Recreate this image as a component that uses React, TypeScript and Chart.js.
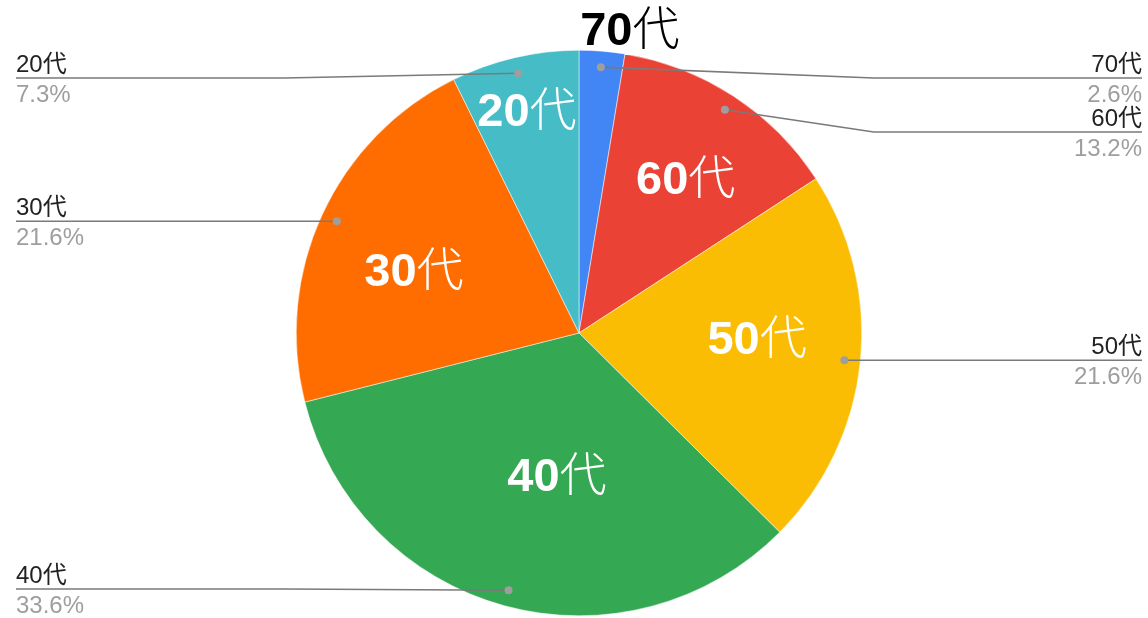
import React, { useEffect, useRef } from "react";
import { Chart, registerables } from "chart.js";

Chart.register(...registerables);

const categories = ["70代", "60代", "50代", "40代", "30代", "20代"];
const values = [2.6, 13.2, 21.6, 33.6, 21.6, 7.3];
const colors = ["#4285F4", "#EA4335", "#FBBC04", "#34A853", "#FF6D01", "#46BDC6"];

// label placement: fraction of radius and angle offset (degrees) from the slice mid-angle
const LABEL_RADIUS = [1.09, 0.665, 0.63, 0.51, 0.625, 0.81];
const LABEL_ANGLE_OFFSET = [4.8, 1.4, -4.3, -6.5, -3.9, 0];

const NUM_FONT = '"Liberation Sans", Arial, sans-serif';
const CJK_FONT = '"Noto Sans CJK JP", sans-serif';
const SIDE_FONT = '24px "Liberation Sans", Arial, "Noto Sans CJK JP", sans-serif';

const labelsPlugin = {
  id: "googleLabels",
  afterDatasetsDraw(chart: any) {
    const ctx: CanvasRenderingContext2D = chart.ctx;
    const meta = chart.getDatasetMeta(0);
    const data: number[] = chart.data.datasets[0].data;
    const labels: string[] = chart.data.labels;
    const total = data.reduce((a, b) => a + b, 0);
    const W = chart.width;
    const H = chart.height;

    type Item = { i: number; px: number; py: number; side: string; lineY: number; cx: number; r: number };
    const items: Item[] = [];

    meta.data.forEach((arc: any, i: number) => {
      const p = arc.getProps(["x", "y", "startAngle", "endAngle", "outerRadius"], true);
      const mid = (p.startAngle + p.endAngle) / 2;
      const dr = p.outerRadius - 16;
      const px = p.x + Math.cos(mid) * dr;
      const py = p.y + Math.sin(mid) * dr;
      items.push({ i, px, py, side: Math.cos(mid) >= 0 ? "right" : "left", lineY: py, cx: p.x, r: p.outerRadius });

      // in-slice labels
      const share = data[i] / total;
      const la = mid + (LABEL_ANGLE_OFFSET[i] * Math.PI) / 180;
      const lr = p.outerRadius * LABEL_RADIUS[i];
      const lx = p.x + Math.cos(la) * lr;
      const ly = p.y + Math.sin(la) * lr;
      const label = labels[i];
      const num = label.replace(/代$/, "");
      const suf = label.slice(num.length);
      const fs = 47;
      ctx.save();
      ctx.textBaseline = "alphabetic";
      ctx.textAlign = "left";
      ctx.font = `bold ${fs}px ${NUM_FONT}`;
      const w1 = ctx.measureText(num).width;
      ctx.font = `300 ${fs}px ${CJK_FONT}`;
      const w2 = ctx.measureText(suf).width;
      const x0 = lx - (w1 + w2) / 2;
      const by = ly + 16;
      ctx.fillStyle = share < 0.05 ? "#000000" : "#ffffff";
      ctx.font = `bold ${fs}px ${NUM_FONT}`;
      ctx.fillText(num, x0, by);
      ctx.font = `300 ${fs}px ${CJK_FONT}`;
      ctx.fillText(suf, x0 + w1, by);
      ctx.restore();
    });

    const minY = 78;
    const maxY = H - 29;
    const gap = 54;
    ["left", "right"].forEach((side) => {
      const list = items.filter((it) => it.side === side).sort((a, b) => a.py - b.py);
      let prev = -Infinity;
      list.forEach((it) => {
        it.lineY = Math.max(it.py, minY, prev + gap);
        prev = it.lineY;
      });
      let next = Infinity;
      for (let k = list.length - 1; k >= 0; k--) {
        list[k].lineY = Math.min(list[k].lineY, maxY, next - gap);
        next = list[k].lineY;
      }
    });

    items.forEach((it) => {
      const left = it.side === "left";
      const elbowX = left ? it.cx - it.r - 12 : it.cx + it.r + 12;
      const endX = left ? 16 : W - 6;
      ctx.save();
      ctx.strokeStyle = "#7a7a7a";
      ctx.lineWidth = 1.6;
      ctx.beginPath();
      ctx.moveTo(it.px, it.py);
      ctx.lineTo(elbowX, it.lineY);
      ctx.lineTo(endX, it.lineY);
      ctx.stroke();
      ctx.fillStyle = "#9e9e9e";
      ctx.beginPath();
      ctx.arc(it.px, it.py, 4, 0, Math.PI * 2);
      ctx.fill();

      ctx.font = SIDE_FONT;
      ctx.textAlign = left ? "left" : "right";
      ctx.textBaseline = "alphabetic";
      ctx.fillStyle = "#222222";
      ctx.fillText(labels[it.i], endX, it.lineY - 6);
      ctx.fillStyle = "#9e9e9e";
      const pct = ((data[it.i] / total) * 100).toFixed(1) + "%";
      ctx.fillText(pct, endX, it.lineY + 24);
      ctx.restore();
    });
  },
};

export default function App() {
  const ref = useRef<HTMLCanvasElement | null>(null);
  useEffect(() => {
    if (!ref.current) return;
    const chart = new Chart(ref.current, {
      type: "pie",
      data: {
        labels: categories,
        datasets: [
          {
            data: values,
            backgroundColor: colors,
            borderColor: "#ffffff",
            borderWidth: 0.5,
          },
        ],
      },
      options: {
        responsive: false,
        animation: false,
        devicePixelRatio: 1,
        layout: { padding: { left: 296, right: 286, top: 50, bottom: 2 } },
        plugins: {
          legend: { display: false },
          tooltip: { enabled: false },
        },
      },
      plugins: [labelsPlugin],
    });
    return () => chart.destroy();
  }, []);
  return (
    <div style={{ position: "fixed", left: 0, top: 0, width: 1148, height: 618, background: "#fff" }}>
      <canvas ref={ref} width={1148} height={618} style={{ display: "block" }} />
    </div>
  );
}
